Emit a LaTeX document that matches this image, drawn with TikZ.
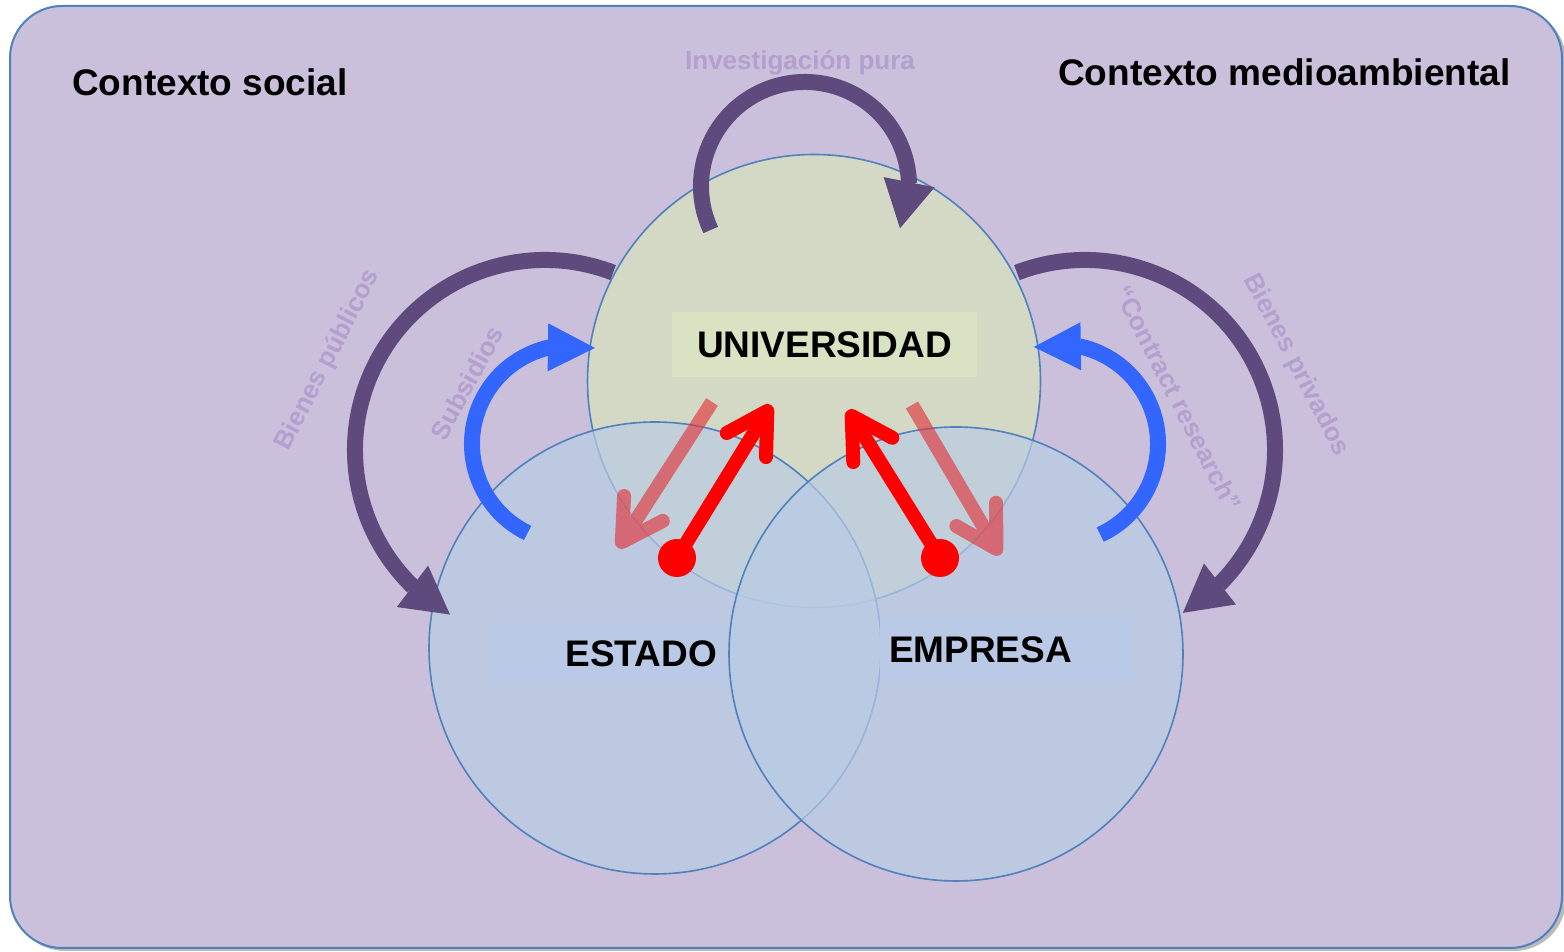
\documentclass[tikz,border=0pt]{standalone}
\usepackage{fontspec}
\setmainfont{Liberation Sans}
\usetikzlibrary{arrows.meta, bending, positioning}

\definecolor{fondo}{RGB}{203,192,219}
\definecolor{borde}{RGB}{79,129,189}
\definecolor{morado}{RGB}{94,74,125}
\definecolor{azul}{RGB}{51,102,255}
\definecolor{tenue}{RGB}{178,160,206}
\definecolor{verdeU}{RGB}{215,228,189}
\definecolor{azulC}{RGB}{184,204,228}
\definecolor{verdeCaja}{RGB}{217,226,194}
\definecolor{azulCaja}{RGB}{186,202,230}
\definecolor{rojoT}{RGB}{225,55,60}

\begin{document}
\begin{tikzpicture}[x=1pt, y=1pt,
  conj/.style={circle, draw=borde, line width=1.6pt, fill opacity=0.7, minimum size=#1, inner sep=0pt},
  caja/.style={rectangle, inner sep=0pt, font=\fontsize{37}{40}\selectfont\bfseries},
  ctx/.style={inner sep=0pt, anchor=base west, font=\fontsize{37}{40}\selectfont\bfseries},
  faint/.style={text=tenue, inner sep=0pt, font=\fontsize{26}{30}\selectfont\bfseries},
  parc/.style={draw=morado, line width=16pt, -{Triangle[length=47pt, width=52pt, line width=0pt, flex]}},
  barc/.style={draw=azul, line width=16pt, -{Triangle[length=47pt, width=48pt, line width=0pt, flex]}},
  rarr/.style={draw=red, line width=14pt, -{Straight Barb[length=40pt, width=46pt, round]}},
  bola/.style={circle, fill=red, minimum size=38pt, inner sep=0pt}]
  \useasboundingbox (0,0) rectangle (1564,952);

  % marco del contexto
  \fill[black!45, opacity=0.6, rounded corners=52pt] (13,1) rectangle (1566,943);
  \draw[fill=fondo, draw=borde, line width=2pt, rounded corners=52pt] (10,4) rectangle (1562,946);
  \node[ctx] (social) at (72,856) {Contexto social};
  \node[ctx] (medio) at (1058,866) {Contexto medioambiental};

  % los tres conjuntos
  \node[conj=453pt, fill=verdeU] (uni) at (814,571) {};
  \node[conj=452pt, fill=azulC] (est) at (655,304) {};
  \node[conj=454pt, fill=azulC] (emp) at (956,298) {};
  \node[caja, fill=verdeCaja, minimum width=305pt, minimum height=65pt] (tuni) at (824.5,607.5) {UNIVERSIDAD};
  \node[caja, fill=azulCaja, minimum width=233pt, minimum height=63pt, text width=221pt, align=right] (test) at (606.5,298.5) {ESTADO};
  \node[caja, fill=azulCaja, minimum width=252pt, minimum height=66pt, text width=234pt, align=left] (temp) at (1006,302) {EMPRESA};

  % rotulos de los flujos
  \node[faint, anchor=base] (pura) at (800,882) {Investigación pura};
  \node[faint, rotate=63] (bpub) at (328,592) {Bienes públicos};
  \node[faint, rotate=61.6] (subs) at (467,569) {Subsidios};
  \node[faint, rotate=-63] (contr) at (1178,554) {“Contract research”};
  \node[faint, rotate=-62.5] (bpriv) at (1296,587) {Bienes privados};

  % centros de los arcos
  \coordinate (cPura) at (805,766);
  \coordinate (cPub) at (545,502);
  \coordinate (cPriv) at (1085,502);
  \coordinate (cSub) at (571,508);
  \coordinate (cCon) at (1058,508);

  \draw[parc] ([shift={(205:104)}]cPura) arc[start angle=205, end angle=-24, radius=104];
  \draw[parc] ([shift={(69:190)}]cPub) arc[start angle=69, end angle=240, radius=190];
  \draw[parc] ([shift={(111:190)}]cPriv) arc[start angle=111, end angle=-59, radius=190];
  \draw[barc] ([shift={(244:99)}]cSub) arc[start angle=244, end angle=76, radius=99];
  \draw[barc] ([shift={(-65:100)}]cCon) arc[start angle=-65, end angle=104, radius=100];

  % flechas rojas
  \coordinate (f1) at (712,550);
  \coordinate (g1) at (618,404);
  \coordinate (f2) at (912,547);
  \coordinate (g2) at (1000,397);
  \begin{scope}[transparency group, opacity=0.65]
    \draw[rarr, draw=rojoT] (f1) -- (g1);
    \draw[rarr, draw=rojoT] (f2) -- (g2);
  \end{scope}
  \node[bola] (d1) at (677,394) {};
  \node[bola] (d2) at (940,394) {};
  \coordinate (t1) at (771,547);
  \coordinate (t2) at (848,542);
  \draw[rarr] (d1.center) -- (t1);
  \draw[rarr] (d2.center) -- (t2);
\end{tikzpicture}
\end{document}
